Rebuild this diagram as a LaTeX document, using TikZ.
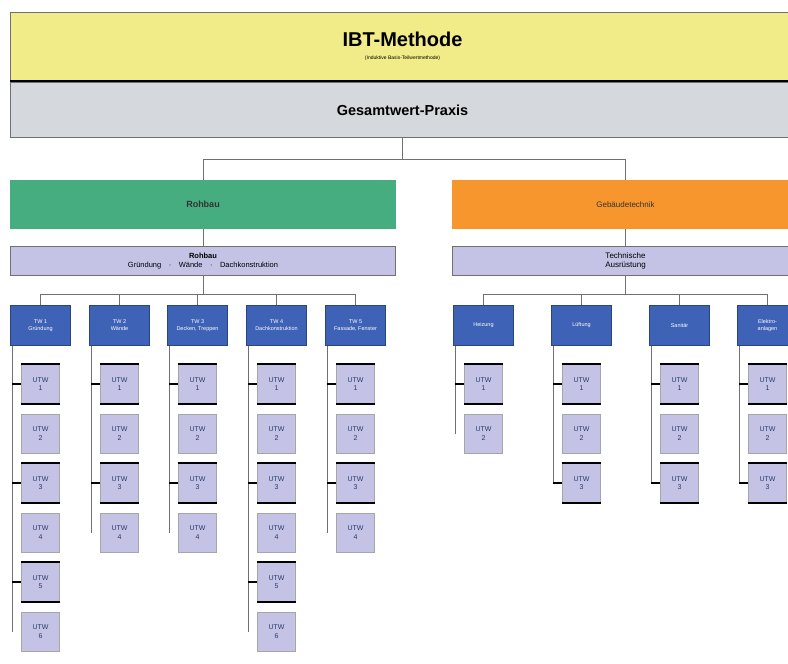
\documentclass[tikz,border=0pt]{standalone}
\usepackage{fontspec}
\setmainfont{Liberation Sans}
\definecolor{ibtgelb}{HTML}{F1EB88}
\definecolor{ibtgrau}{HTML}{D5D8DC}
\definecolor{ibtgruen}{HTML}{45AD80}
\definecolor{ibtorange}{HTML}{F7962D}
\definecolor{ibtlila}{HTML}{C4C3E5}
\definecolor{ibtblau}{HTML}{3E62B6}
\definecolor{ibtlinie}{HTML}{707070}
\tikzset{
  kasten/.style={draw=ibtlinie, line width=1pt, rectangle, anchor=north west, inner sep=1pt, align=center},
  teil/.style={kasten, fill=ibtblau, draw=ibtblau!70!black, text=white, minimum width=60pt, minimum height=40pt, font=\fontsize{5.5}{7}\selectfont},
  utw/.style={kasten, fill=ibtlila, draw=gray!70, text=ibtblau!60!black, minimum width=38pt, minimum height=39pt, font=\fontsize{7}{8.5}\selectfont},
  linie/.style={draw=ibtlinie, line width=0.9pt},
  stich/.style={draw=black, line width=1.8pt}
}
\begin{document}
\begin{tikzpicture}[x=1pt,y=-1pt]
        \useasboundingbox (0,0) rectangle (788,664);
        \clip (0,0) rectangle (788,664);
        % Kopf
        \node[kasten, fill=ibtgelb, minimum width=784pt, minimum height=68pt] (ibt) at (10,12)
          {\fontsize{20}{22}\selectfont\bfseries IBT-Methode\\[1pt]\fontsize{5}{6}\selectfont (Induktive Basis-Teilwertmethode)};
        \draw[line width=2pt] (ibt.south west) -- (ibt.south east);
        \node[kasten, fill=ibtgrau, minimum width=784pt, minimum height=55pt, font=\fontsize{14.5}{16}\selectfont\bfseries] (ges) at (10,82) {Gesamtwert-Praxis};
        % Hauptgruppen
        \node[kasten, fill=ibtgruen, draw=ibtgruen, minimum width=385pt, minimum height=48pt, text=black!80, font=\fontsize{9}{10}\selectfont\bfseries] (rohbau) at (10,180) {Rohbau};
        \node[kasten, fill=ibtorange, draw=ibtorange, minimum width=346pt, minimum height=48pt, text=black!80, font=\fontsize{8}{9}\selectfont] (technik) at (452,180) {Gebäudetechnik};
        \node[kasten, fill=ibtlila, draw=ibtlinie, minimum width=385pt, minimum height=29pt, font=\fontsize{7.5}{9}\selectfont] (rohbauL) at (10,246) {\textbf{Rohbau}\\Gründung\quad\textperiodcentered\quad Wände\quad\textperiodcentered\quad Dachkonstruktion};
        \node[kasten, fill=ibtlila, draw=ibtlinie, minimum width=346pt, minimum height=29pt, font=\fontsize{8}{9.5}\selectfont] (technikL) at (452,246) {Technische\\Ausrüstung};
        \draw[linie] (ges.south) -- ++(0,21) coordinate (g1) -| (rohbau.north);
        \draw[linie] (g1) -| (technik.north);
        \draw[linie] (rohbau) -- (rohbauL);
        \draw[linie] (technik.south) -- (technikL.north);
        % Teilwerte Rohbau
        \node[teil] (b1) at (10,305) {TW 1\\Gründung};
        \node[teil] (b2) at (89,305) {TW 2\\Wände};
        \node[teil] (b3) at (167,305) {TW 3\\Decken, Treppen};
        \node[teil] (b4) at (246,305) {TW 4\\Dachkonstruktion};
        \node[teil] (b5) at (325,305) {TW 5\\Fassade, Fenster};
        % Teilwerte Technik
        \node[teil] (b6) at (453,305) {Heizung};
        \node[teil] (b7) at (551,305) {Lüftung};
        \node[teil] (b8) at (649,305) {Sanitär};
        \node[teil] (b9) at (737,305) {Elektro-\\anlagen};
        \draw[linie] (rohbauL.south) -- ++(0,18) coordinate (r1);
        \foreach \i in {1,...,5}
          \draw[linie] (r1) -| (b\i.north);
        \draw[linie] (technikL.south) -- ++(0,18) coordinate (t1);
        \foreach \i in {6,...,9}
          \draw[linie] (t1) -| (b\i.north);
        % Unterteilwerte
        \foreach \i/\n/\ungerade in {1/6/{1,3,5},2/4/{1,3},3/4/{1,3},4/6/{1,3,5},5/4/{1,3},6/2/{1},7/3/{1,3},8/3/{1,3},9/3/{1,3}}{
          \foreach \k in {1,...,\n}
            \node[utw] (c\i-\k) at ([xshift=11pt,yshift=-18pt-49.5pt*(\k-1)]b\i.south west) {UTW\\\k};
          \draw[linie] ([xshift=2pt]b\i.south west) coordinate (s\i) -- (s\i |- c\i-\n.west);
          \foreach \k in \ungerade {
            \draw[stich] (s\i |- c\i-\k.west) -- (c\i-\k.west);
            \draw[line width=1.4pt] (c\i-\k.north west) -- (c\i-\k.north east);
            \draw[line width=1.4pt] (c\i-\k.south west) -- (c\i-\k.south east);
          }
        }
\end{tikzpicture}
\end{document}
